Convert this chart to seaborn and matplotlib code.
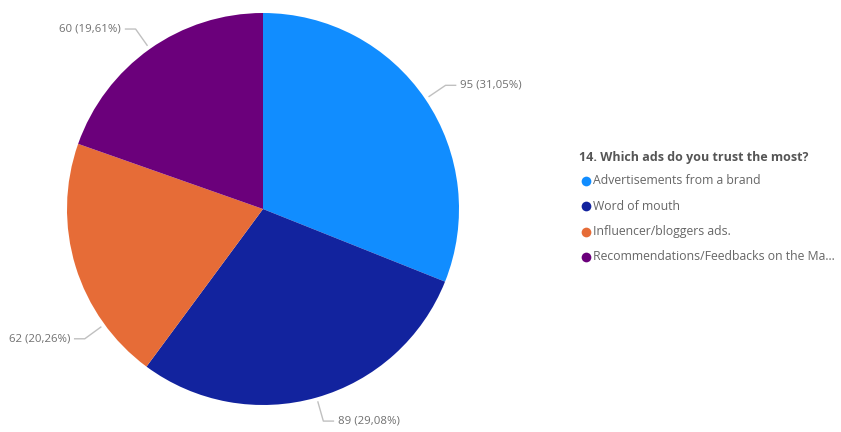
import numpy as np
import matplotlib
matplotlib.use("Agg")
import matplotlib.pyplot as plt
from matplotlib.lines import Line2D
import seaborn as sns

# Survey answers
categories = [
    "Advertisements from a brand",
    "Word of mouth",
    "Influencer/bloggers ads.",
    "Recommendations/Feedbacks on the Ma...",
]
counts = [95, 89, 62, 60]
colors = ["#118DFF", "#12239E", "#E66C37", "#6B007B"]
legend_title = "14. Which ads do you trust the most?"

sns.set_theme(style="white")
plt.rcParams["font.family"] = ["Open Sans", "DejaVu Sans"]

W, H = 841, 432
fig = plt.figure(figsize=(W / 100, H / 100), dpi=100)
fig.patch.set_facecolor("white")

# Pie axes: centre (263, 209) px, radius 196 px
cx, cy, r = 263, 209, 196
ax = fig.add_axes([(cx - r) / W, (H - cy - r) / H, 2 * r / W, 2 * r / H])
wedges, _ = ax.pie(
    counts,
    colors=colors,
    startangle=90,
    counterclock=False,
    radius=1.0,
    wedgeprops=dict(linewidth=0),
)
ax.set_xlim(-1, 1)
ax.set_ylim(-1, 1)
ax.set_aspect("equal")
ax.axis("off")

total = sum(counts)
label_color = "#707070"
line_color = "#C0C0C0"
# small angular nudges so labels sit clear of neighbours
nudges = [0, 0, 19, 0]
for w, n, nudge in zip(wedges, counts, nudges):
    mid = np.deg2rad((w.theta1 + w.theta2) / 2 + nudge)
    x0, y0 = 1.02 * np.cos(mid), 1.02 * np.sin(mid)
    x1, y1 = 1.125 * np.cos(mid), 1.125 * np.sin(mid)
    side = 1 if np.cos(mid) >= 0 else -1
    x2 = x1 + side * 0.055
    ax.plot([x0, x1, x2], [y0, y1, y1], color=line_color, lw=1.0,
            clip_on=False, solid_capstyle="butt")
    pct = f"{100 * n / total:.2f}".replace(".", ",")
    ax.text(x2 + side * 0.02, y1, f"{n} ({pct}%)",
            ha="left" if side > 0 else "right", va="center",
            fontsize=8.2, color=label_color, clip_on=False)

# Legend
fig.text(579 / W, 1 - 158 / H, legend_title, fontsize=9.0, fontweight="bold",
         color="#555555", ha="left", va="center")
for i, (cat, col) in enumerate(zip(categories, colors)):
    yy = 1 - (181 + 25.3 * i) / H
    fig.add_artist(Line2D([586 / W], [yy], marker="o", markersize=7.0,
                          color=col, markeredgewidth=0,
                          transform=fig.transFigure))
    fig.text(593 / W, yy, cat, fontsize=8.85, color="#666666",
             ha="left", va="center")

fig.savefig("out.png", dpi=100, facecolor="white")
